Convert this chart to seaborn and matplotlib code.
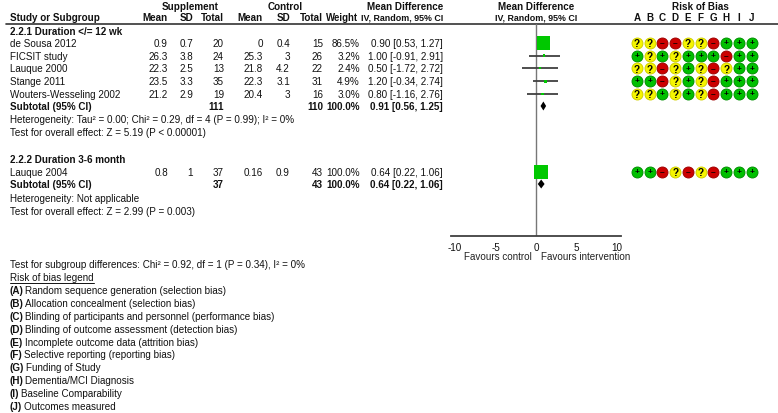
import matplotlib
matplotlib.use("Agg")
import matplotlib.pyplot as plt
import seaborn as sns
import pandas as pd
import numpy as np

# ---------------- data ----------------
studies1 = ["de Sousa 2012", "FICSIT study", "Lauque 2000", "Stange 2011", "Wouters-Wesseling 2002"]
sup_mean1 = [0.9, 26.3, 22.3, 23.5, 21.2]
sup_sd1 = [0.7, 3.8, 2.5, 3.3, 2.9]
sup_n1 = [20, 24, 13, 35, 19]
ctl_mean1 = [0, 25.3, 21.8, 22.3, 20.4]
ctl_sd1 = [0.4, 3, 4.2, 3.1, 3]
ctl_n1 = [15, 26, 22, 31, 16]
weight1 = [86.5, 3.2, 2.4, 4.9, 3.0]
md1 = [0.90, 1.00, 0.50, 1.20, 0.80]
lo1 = [0.53, -0.91, -1.72, -0.34, -1.16]
hi1 = [1.27, 2.91, 2.72, 2.74, 2.76]
sub1 = {"n_sup": 111, "n_ctl": 110, "w": 100.0, "md": 0.91, "lo": 0.56, "hi": 1.25}

studies2 = ["Lauque 2004"]
sup_mean2 = [0.8]
sup_sd2 = [1]
sup_n2 = [37]
ctl_mean2 = [0.16]
ctl_sd2 = [0.9]
ctl_n2 = [43]
weight2 = [100.0]
md2 = [0.64]
lo2 = [0.22]
hi2 = [1.06]
sub2 = {"n_sup": 37, "n_ctl": 43, "w": 100.0, "md": 0.64, "lo": 0.22, "hi": 1.06}

rob_domains = ["A", "B", "C", "D", "E", "F", "G", "H", "I", "J"]
rob1 = [
    ["?", "?", "-", "-", "?", "?", "-", "+", "+", "+"],
    ["+", "?", "+", "?", "+", "+", "+", "-", "+", "+"],
    ["?", "?", "-", "?", "+", "?", "-", "?", "+", "+"],
    ["+", "+", "-", "?", "+", "?", "-", "+", "+", "+"],
    ["?", "?", "+", "?", "+", "?", "-", "+", "+", "+"],
]
rob2 = [["+", "+", "-", "?", "-", "?", "-", "+", "+", "+"]]

het1 = "Heterogeneity: Tau\u00b2 = 0.00; Chi\u00b2 = 0.29, df = 4 (P = 0.99); I\u00b2 = 0%"
eff1 = "Test for overall effect: Z = 5.19 (P < 0.00001)"
het2 = "Heterogeneity: Not applicable"
eff2 = "Test for overall effect: Z = 2.99 (P = 0.003)"
subdiff = "Test for subgroup differences: Chi\u00b2 = 0.92, df = 1 (P = 0.34), I\u00b2 = 0%"
legend_items = [
    ("(A)", "Random sequence generation (selection bias)"),
    ("(B)", "Allocation concealment (selection bias)"),
    ("(C)", "Blinding of participants and personnel (performance bias)"),
    ("(D)", "Blinding of outcome assessment (detection bias)"),
    ("(E)", "Incomplete outcome data (attrition bias)"),
    ("(F)", "Selective reporting (reporting bias)"),
    ("(G)", "Funding of Study"),
    ("(H)", "Dementia/MCI Diagnosis"),
    ("(I)", "Baseline Comparability"),
    ("(J)", "Outcomes measured"),
]
xticks = [-10, -5, 0, 5, 10]

# ---------------- style ----------------
sns.set_style("white")
plt.rcParams['font.family'] = ['Liberation Sans', 'DejaVu Sans']
FS = 7.1
FSH = 7.1
FSIV = 6.4
TXT = "#111111"

W, H = 778, 414
fig = plt.figure(figsize=(W / 100, H / 100), dpi=100)
bg = fig.add_axes([0, 0, 1, 1])
bg.set_xlim(0, W)
bg.set_ylim(H, 0)
bg.axis("off")


def T(x, y, s, ha="left", bold=False, size=FS, color=TXT):
    return bg.text(x, y, s, ha=ha, va="center", fontsize=size,
                   fontweight="bold" if bold else "normal", color=color)


# column right edges (pixels)
cols = [168, 193, 224, 263, 290, 323, 360, 443]
XL = 10

# headers
T(190, 7, "Supplement", ha="center", bold=True, size=FSH)
T(285, 7, "Control", ha="center", bold=True, size=FSH)
T(405, 7, "Mean Difference", ha="center", bold=True, size=FSH)
T(536, 7, "Mean Difference", ha="center", bold=True, size=FSH)
T(700, 7, "Risk of Bias", ha="center", bold=True, size=FSH)
T(XL, 18, "Study or Subgroup", bold=True, size=FSH)
hdr_x = cols[:6] + [358, cols[7]]
hdr_sz = [FSH] * 6 + [6.9, FSIV]
for c, s, sz in zip(hdr_x, ["Mean", "SD", "Total", "Mean", "SD", "Total", "Weight", "IV, Random, 95% CI"], hdr_sz):
    T(c, 18, s, ha="right", bold=True, size=sz)
T(536, 18, "IV, Random, 95% CI", ha="center", bold=True, size=FSIV)
rob_x0, rob_dx = 637, 12.75
for i, d in enumerate(rob_domains):
    T(rob_x0 + i * rob_dx, 18, d, ha="center", bold=True, size=FSH)
bg.plot([6, W], [25, 25], color="#333333", lw=1.2)


def fmt(v):
    return f"{v:g}"


def ci_text(m, l, h):
    return f"{m:.2f} [{l:.2f}, {h:.2f}]"


row_dy = 12.7
y_rows1 = [44 + i * row_dy for i in range(len(studies1))]
y_sub1 = 107
y_rows2 = [173]
y_sub2 = 185

T(XL, 32, "2.2.1 Duration </= 12 wk", bold=True)
for i, y in enumerate(y_rows1):
    vals = [fmt(sup_mean1[i]), fmt(sup_sd1[i]), str(sup_n1[i]), fmt(ctl_mean1[i]),
            fmt(ctl_sd1[i]), str(ctl_n1[i]), f"{weight1[i]:.1f}%", ci_text(md1[i], lo1[i], hi1[i])]
    T(XL, y, studies1[i])
    for c, s in zip(cols, vals):
        T(c, y, s, ha="right")
T(XL, y_sub1, "Subtotal (95% CI)", bold=True)
T(cols[2], y_sub1, str(sub1["n_sup"]), ha="right", bold=True)
T(cols[5], y_sub1, str(sub1["n_ctl"]), ha="right", bold=True)
T(cols[6], y_sub1, f"{sub1['w']:.1f}%", ha="right", bold=True)
T(cols[7], y_sub1, ci_text(sub1["md"], sub1["lo"], sub1["hi"]), ha="right", bold=True)
T(XL, 120, het1)
T(XL, 133, eff1)

T(XL, 160, "2.2.2 Duration 3-6 month", bold=True)
for i, y in enumerate(y_rows2):
    vals = [fmt(sup_mean2[i]), fmt(sup_sd2[i]), str(sup_n2[i]), fmt(ctl_mean2[i]),
            fmt(ctl_sd2[i]), str(ctl_n2[i]), f"{weight2[i]:.1f}%", ci_text(md2[i], lo2[i], hi2[i])]
    T(XL, y, studies2[i])
    for c, s in zip(cols, vals):
        T(c, y, s, ha="right")
T(XL, y_sub2, "Subtotal (95% CI)", bold=True)
T(cols[2], y_sub2, str(sub2["n_sup"]), ha="right", bold=True)
T(cols[5], y_sub2, str(sub2["n_ctl"]), ha="right", bold=True)
T(cols[6], y_sub2, f"{sub2['w']:.1f}%", ha="right", bold=True)
T(cols[7], y_sub2, ci_text(sub2["md"], sub2["lo"], sub2["hi"]), ha="right", bold=True)
T(XL, 199, het2)
T(XL, 212, eff2)

# footer / legend
T(XL, 265, subdiff)
renderer = fig.canvas.get_renderer()
t = T(XL, 278, "Risk of bias legend")
bb = t.get_window_extent(renderer)
bg.plot([XL, XL + bb.width], [283.5, 283.5], color=TXT, lw=0.7)
for i, (lab, desc) in enumerate(legend_items):
    y = 291 + i * 12.9
    tb = T(XL, y, lab, bold=True)
    w = tb.get_window_extent(renderer).width
    T(XL + w + 1.5, y, desc)

# ---------------- forest axes ----------------
px_per_unit = 8.1
x0_px = 536
xlim = (-11.5, 11.5)
left_px = x0_px + xlim[0] * px_per_unit
width_px = (xlim[1] - xlim[0]) * px_per_unit
top_px, bot_px = 25, 237
fa = fig.add_axes([left_px / W, (H - bot_px) / H, width_px / W, (bot_px - top_px) / H])
fa.set_xlim(*xlim)
fa.set_ylim(bot_px, top_px)
fa.patch.set_alpha(0)
for s in ["top", "right", "left"]:
    fa.spines[s].set_visible(False)
fa.spines["bottom"].set_bounds(-10.5, 10.5)
fa.spines["bottom"].set_color("#404040")
fa.spines["bottom"].set_linewidth(1.3)
fa.set_xticks(xticks)
fa.set_xticklabels([str(v) for v in xticks])
fa.tick_params(axis="x", direction="inout", length=7, width=1, color="#404040",
               labelsize=FS, pad=0.5, labelcolor=TXT)
fa.set_yticks([])
fa.axvline(0, color="#777777", lw=1, zorder=1)

fa.text(-0.5, 257, "Favours control", ha="right", va="center", fontsize=FS, color="#222222", clip_on=False)
fa.text(0.6, 257, "Favours intervention", ha="left", va="center", fontsize=FS, color="#222222", clip_on=False)

forest = pd.DataFrame({
    "md": md1 + md2,
    "lo": lo1 + lo2,
    "hi": hi1 + hi2,
    "w": weight1 + weight2,
    "y": y_rows1 + y_rows2,
})
side_pt_full = 14 * 0.72
forest["size"] = (side_pt_full ** 2) * forest["w"] / 100.0
for _, r in forest.iterrows():
    fa.plot([r["lo"], r["hi"]], [r["y"], r["y"]], color="#404040", lw=1.3, zorder=2,
            solid_capstyle="butt")
sns.scatterplot(data=forest, x="md", y="y", size="size", sizes=(forest["size"].min(), forest["size"].max()),
                marker="s", color="#00c800", edgecolor="none", linewidth=0, legend=False, ax=fa, zorder=3)

for sub, y in [(sub1, y_sub1), (sub2, y_sub2)]:
    fa.fill([sub["lo"], sub["md"], sub["hi"], sub["md"]], [y, y - 4.5, y, y + 4.5],
            color="black", lw=0, zorder=4)
fa.set_xlabel("")
fa.set_ylabel("")

# ---------------- risk of bias dots ----------------
recs = []
for rows, ys in [(rob1, y_rows1), (rob2, y_rows2)]:
    for r, y in zip(rows, ys):
        for j, v in enumerate(r):
            recs.append({"x": rob_x0 + j * rob_dx, "y": y, "j": v})
rob = pd.DataFrame(recs)
fills = {"+": "#00c000", "-": "#cc0000", "?": "#f5f500"}
edges = {"+": "#009000", "-": "#a00000", "?": "#d0d000"}
for k in ["+", "-", "?"]:
    sub = rob[rob["j"] == k]
    sns.scatterplot(data=sub, x="x", y="y", color=fills[k], edgecolor=edges[k], linewidth=0.7,
                    s=62, marker="o", legend=False, ax=bg, zorder=3)
for _, r in rob.iterrows():
    sym = {"+": "+", "-": "\u2013", "?": "?"}[r["j"]]
    size = 7.3 if r["j"] == "?" else 6.0
    bg.text(r["x"], r["y"] + (0.3 if r["j"] == "?" else -0.2), sym, ha="center", va="center",
            fontsize=size, fontweight="bold", color="black", zorder=4)
bg.set_xlabel("")
bg.set_ylabel("")

fig.savefig("out.png", dpi=100)
